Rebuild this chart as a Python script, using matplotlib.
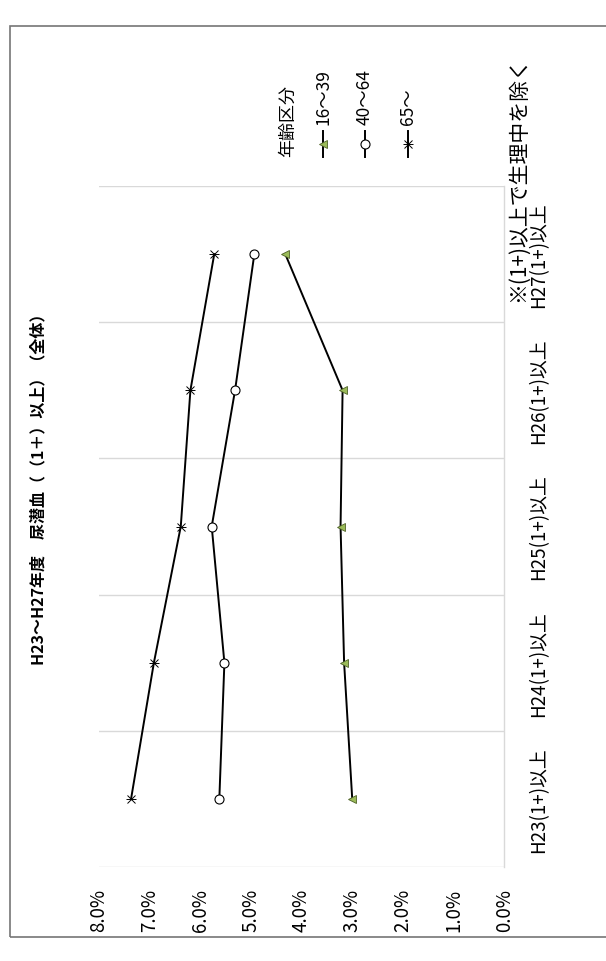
import matplotlib
matplotlib.use("Agg")
import matplotlib.pyplot as plt
from matplotlib.lines import Line2D
from matplotlib.patches import Rectangle

plt.rcParams['font.family'] = ['Noto Sans CJK JP', 'DejaVu Sans']

# 尿潜血(1+)以上の割合(%)、年齢区分別
years = ["H23(1+)以上", "H24(1+)以上", "H25(1+)以上", "H26(1+)以上", "H27(1+)以上"]
age_16_39 = [3.0, 3.16, 3.23, 3.19, 4.32]
age_40_64 = [5.62, 5.52, 5.77, 5.31, 4.93]
age_65 = [7.36, 6.91, 6.38, 6.19, 5.72]
series_names = ["16～39", "40～64", "65～"]
value_ticks = [0, 1, 2, 3, 4, 5, 6, 7, 8]

W, H = 606, 962


def fx(x):
    return x / W


def fy(y):
    return 1 - y / H


fig = plt.figure(figsize=(W / 100, H / 100), dpi=100)

# outer frame (open on the right)
fig.add_artist(Rectangle((fx(10), fy(938)), 1.2, fy(27) - fy(938),
                         transform=fig.transFigure, fill=False,
                         edgecolor="#767676", linewidth=1.2))

# chart is drawn turned a quarter turn: values run right-to-left, years bottom-to-top
ax = fig.add_axes([fx(98.6), fy(868), fx(504.4) - fx(98.6), fy(187) - fy(868)])
pos = list(range(len(years)))

styles = [
    dict(marker="<", markersize=6, markerfacecolor="#9bbb59", markeredgecolor="#4f6228",
         markeredgewidth=0.6),
    dict(marker="o", markersize=6.5, markerfacecolor="white", markeredgecolor="black",
         markeredgewidth=0.8),
    dict(marker="x", markersize=5.5, markeredgecolor="black", markeredgewidth=0.7),
]

for vals, st in zip([age_16_39, age_40_64, age_65], styles):
    ax.plot(vals, pos, color="black", linewidth=1.4, **st)
# bar through the asterisk marker
ax.plot(age_65, pos, linestyle="none", marker="_", markersize=6.5,
        markeredgecolor="black", markeredgewidth=0.7)

ax.set_xlim(8, 0)
ax.set_ylim(-0.5, len(years) - 0.5)

for b in [i - 0.5 for i in range(len(years) + 1)]:
    ax.axhline(b, color="#d9d9d9", linewidth=1.0, zorder=0)

for side in ["top", "bottom", "left"]:
    ax.spines[side].set_visible(False)
ax.spines["right"].set_color("#d9d9d9")
ax.spines["right"].set_linewidth(1.0)

ax.set_xticks(value_ticks)
ax.set_xticklabels([f"{v:.1f}%" for v in value_ticks], rotation=90, fontsize=13.5)
ax.tick_params(axis="x", length=0, pad=15)

ax.yaxis.tick_right()
ax.set_yticks(pos)
ax.set_yticklabels(years, rotation=90, fontsize=13.5, va="center")
ax.tick_params(axis="y", length=0, pad=17)

# title
fig.text(fx(38), fy(485), "H23～H27年度　尿潜血（（1＋）以上）（全体）",
         rotation=90, ha="center", va="center", fontsize=11.5, fontweight="bold")

# legend
fig.text(fx(288), fy(157), "年齢区分", rotation=90, ha="center", va="bottom", fontsize=13)
leg_x = [323, 365, 408]
for name, st, lx in zip(series_names, styles, leg_x):
    fig.add_artist(Line2D([fx(lx)] * 3, [fy(158), fy(145), fy(132)],
                          transform=fig.transFigure, color="black", linewidth=1.4,
                          markevery=[1], **st))
    fig.text(fx(lx), fy(125), name, rotation=90, ha="center", va="bottom", fontsize=12.5)
fig.add_artist(Line2D([fx(leg_x[2])], [fy(145)], transform=fig.transFigure,
                      linestyle="none", marker="_", markersize=6.5,
                      markeredgecolor="black", markeredgewidth=0.7))

# note
fig.text(fx(518), fy(179), "※(1+)以上で生理中を除く", rotation=90,
         ha="center", va="center", fontsize=15)

fig.savefig("out.png", dpi=100, facecolor="white")
